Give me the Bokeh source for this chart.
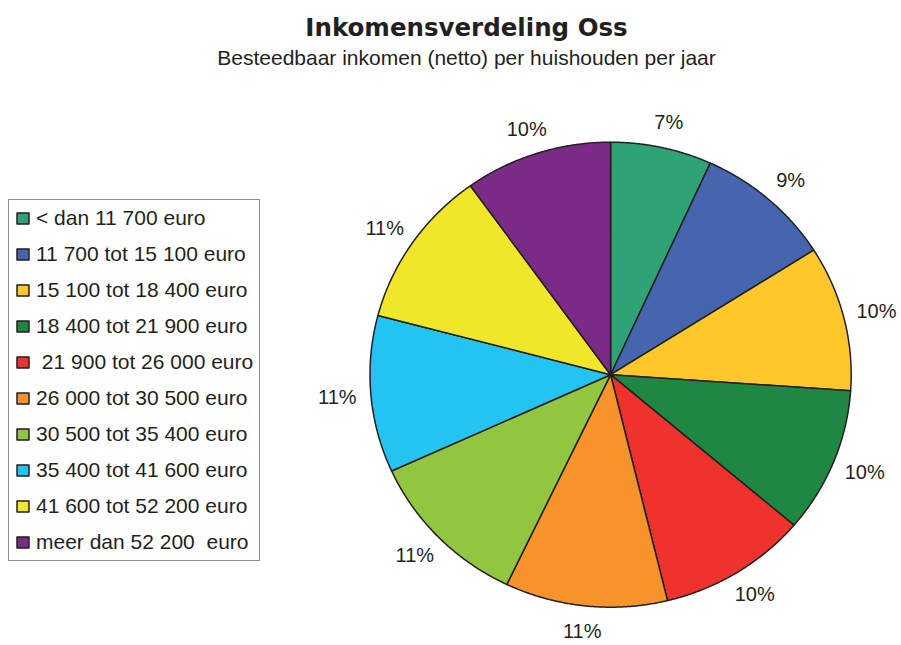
import numpy as np
from bokeh.plotting import figure
from bokeh.models import ColumnDataSource, Range1d, Legend, LegendItem, Label
from bokeh.core.properties import value
from bokeh.embed import file_html
from bokeh.resources import INLINE

# ---- data ----
categories = ["< dan 11 700 euro", "11 700 tot 15 100 euro", "15 100 tot 18 400 euro",
              "18 400 tot 21 900 euro", " 21 900 tot 26 000 euro", "26 000 tot 30 500 euro",
              "30 500 tot 35 400 euro", "35 400 tot 41 600 euro", "41 600 tot 52 200 euro",
              "meer dan 52 200  euro"]
shares = [6.8, 9.2, 10.1, 10.1, 10.0, 10.9, 11.1, 10.9, 11.0, 9.9]
pct_labels = ["7%", "9%", "10%", "10%", "10%", "11%", "11%", "11%", "11%", "10%"]
colors = ["#2FA376", "#4565AE", "#FEC82A", "#1E8742", "#EE322C",
          "#F7932B", "#92C641", "#23C4F1", "#F0E72A", "#7C2A88"]

W, H = 901, 645
p = figure(width=W, height=H, x_range=Range1d(0, W), y_range=Range1d(H, 0),
           output_backend="svg", toolbar_location=None, min_border=0)
p.axis.visible = False
p.grid.visible = False
p.outline_line_color = None
p.background_fill_color = "white"
p.border_fill_color = "white"

# pie geometry (frame pixels, y downward)
cx, cy, rx, ry = 610.1, 374.2, 240.6, 232.5
vals = np.array(shares, dtype=float)
frac = vals / vals.sum()
ends = np.cumsum(frac) * 2 * np.pi
starts = ends - frac * 2 * np.pi

xs, ys = [], []
for a0, a1 in zip(starts, ends):
    t = np.linspace(a0, a1, 120)
    xs.append([cx] + list(cx + rx * np.sin(t)) + [cx])
    ys.append([cy] + list(cy - ry * np.cos(t)) + [cy])

src = ColumnDataSource(dict(xs=xs, ys=ys, color=colors, label=categories))
r = p.patches("xs", "ys", source=src, fill_color="color", line_color="#231F20",
              line_width=1.5, line_join="round")

# percentage labels
mid = (starts + ends) / 2
kx, ky = 1.14, 1.11
lsrc = ColumnDataSource(dict(x=cx + kx * rx * np.sin(mid), y=cy - ky * ry * np.cos(mid), t=pct_labels))
p.text("x", "y", text="t", source=lsrc, text_align="center", text_baseline="middle",
       text_font=value("Liberation Sans"), text_font_size="20px", text_color="#231F20")

# titles
p.add_layout(Label(x=466, y=26.7, text="Inkomensverdeling Oss", text_align="center",
                   text_baseline="alphabetic", text_font="DejaVu Sans", text_font_style="bold",
                   text_font_size="24.5px", text_color="#231F20"))
p.add_layout(Label(x=466, y=57.3, text="Besteedbaar inkomen (netto) per huishouden per jaar",
                   text_align="center", text_baseline="alphabetic", text_font="Liberation Sans",
                   text_font_size="21px", text_color="#231F20"))

items = [LegendItem(label=lab, renderers=[r], index=i) for i, lab in enumerate(categories)]
legend = Legend(items=items, location=(8, 84), orientation="vertical",
                label_text_font="Liberation Sans", label_text_font_size="21px",
                label_text_color="#231F20", glyph_width=15, glyph_height=14,
                label_height=24, label_standoff=6, spacing=12, padding=6, margin=0,
                border_line_color="#231F20", border_line_width=1,
                background_fill_color="white", background_fill_alpha=1)
p.add_layout(legend)

open("out.html", "w").write(file_html(p, INLINE))
